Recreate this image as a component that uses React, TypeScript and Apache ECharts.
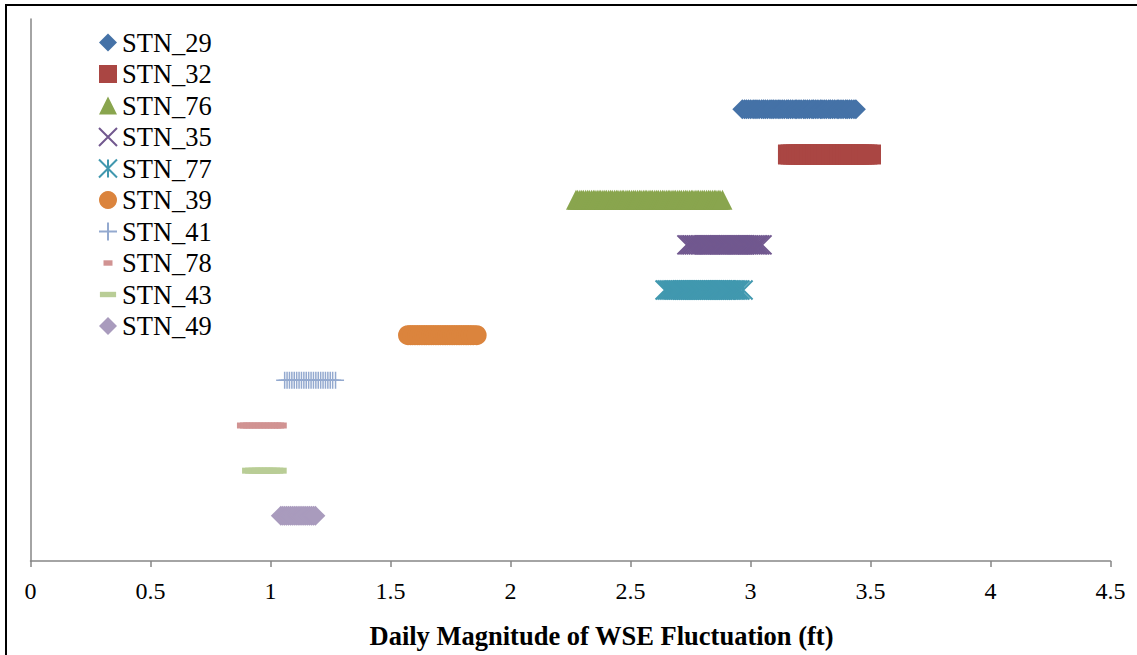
import React, { useEffect, useRef } from "react";
import * as echarts from "echarts";

const seriesNames = ["STN_29", "STN_32", "STN_76", "STN_35", "STN_77", "STN_39", "STN_41", "STN_78", "STN_43", "STN_49"];
const levels = [10, 9, 8, 7, 6, 5, 4, 3, 2, 1];

const stn29 = [2.966, 2.975, 2.983, 2.992, 3.001, 3.011, 3.019, 3.027, 3.036, 3.046, 3.054, 3.062, 3.071, 3.081, 3.089, 3.097, 3.106, 3.115, 3.123, 3.132, 3.141, 3.151, 3.158, 3.167, 3.176, 3.186, 3.193, 3.202, 3.211, 3.221, 3.228, 3.237, 3.246, 3.256, 3.263, 3.272, 3.281, 3.291, 3.298, 3.307, 3.316, 3.326, 3.333, 3.342, 3.351, 3.361, 3.368, 3.377, 3.386, 3.396, 3.403, 3.412, 3.421, 3.431, 3.439];
const stn32 = [3.156, 3.167, 3.178, 3.190, 3.201, 3.212, 3.224, 3.235, 3.247, 3.258, 3.270, 3.281, 3.292, 3.304, 3.315, 3.327, 3.338, 3.350, 3.361, 3.372, 3.384, 3.395, 3.407, 3.418, 3.430, 3.441, 3.452, 3.464, 3.475, 3.487, 3.502];
const stn76 = [2.273, 2.280, 2.289, 2.297, 2.304, 2.313, 2.321, 2.328, 2.337, 2.345, 2.352, 2.361, 2.369, 2.376, 2.385, 2.393, 2.400, 2.409, 2.417, 2.424, 2.433, 2.441, 2.448, 2.457, 2.465, 2.472, 2.481, 2.489, 2.496, 2.505, 2.513, 2.520, 2.529, 2.537, 2.544, 2.553, 2.561, 2.568, 2.577, 2.585, 2.592, 2.601, 2.609, 2.616, 2.625, 2.633, 2.640, 2.649, 2.657, 2.664, 2.673, 2.681, 2.688, 2.697, 2.705, 2.712, 2.721, 2.729, 2.736, 2.745, 2.753, 2.760, 2.769, 2.777, 2.784, 2.793, 2.801, 2.808, 2.817, 2.825, 2.832, 2.841, 2.849, 2.856, 2.865, 2.873, 2.883];
const stn35 = [2.735, 2.743, 2.751, 2.758, 2.766, 2.774, 2.782, 2.790, 2.797, 2.805, 2.813, 2.821, 2.829, 2.836, 2.844, 2.852, 2.860, 2.868, 2.875, 2.883, 2.891, 2.899, 2.907, 2.914, 2.922, 2.930, 2.938, 2.946, 2.953, 2.961, 2.969, 2.977, 2.985, 2.992, 3.000, 3.008, 3.016, 3.024, 3.031, 3.039, 3.048];
const stn77 = [2.644, 2.652, 2.660, 2.668, 2.676, 2.684, 2.692, 2.700, 2.708, 2.716, 2.724, 2.732, 2.740, 2.748, 2.756, 2.764, 2.772, 2.780, 2.788, 2.796, 2.804, 2.812, 2.820, 2.828, 2.836, 2.844, 2.852, 2.860, 2.868, 2.876, 2.884, 2.892, 2.900, 2.908, 2.916, 2.924, 2.932, 2.940, 2.948, 2.956, 2.969];
const stn39 = [1.573, 1.583, 1.592, 1.602, 1.612, 1.621, 1.631, 1.641, 1.650, 1.660, 1.670, 1.679, 1.689, 1.699, 1.708, 1.718, 1.728, 1.737, 1.747, 1.757, 1.766, 1.776, 1.786, 1.795, 1.805, 1.815, 1.824, 1.834, 1.845, 1.859];
const stn41 = [1.059, 1.069, 1.079, 1.089, 1.099, 1.109, 1.119, 1.129, 1.139, 1.149, 1.159, 1.169, 1.179, 1.189, 1.199, 1.209, 1.219, 1.229, 1.239, 1.249, 1.259, 1.271];
const stn78 = [0.881, 0.894, 0.907, 0.920, 0.933, 0.946, 0.959, 0.972, 0.985, 0.998, 1.011, 1.024, 1.036, 1.047];
const stn43 = [0.919, 0.932, 0.946, 0.960, 0.974, 0.988, 1.002, 1.016, 1.030];
const stn49 = [1.043, 1.051, 1.059, 1.067, 1.075, 1.083, 1.091, 1.099, 1.107, 1.115, 1.123, 1.131, 1.139, 1.147, 1.155, 1.163, 1.171, 1.179, 1.187];

const allValues = [stn29, stn32, stn76, stn35, stn77, stn39, stn41, stn78, stn43, stn49];

const colors = ["#4572A7", "#AA4643", "#89A54E", "#71588F", "#4198AF", "#DB843D", "#93A9CF", "#D19392", "#B9CD96", "#A99BBD"];

const xMin = 0;
const xMax = 4.5;
const xInterval = 0.5;
const axisTitle = "Daily Magnitude of WSE Fluctuation (ft)";

const symbols = [
  "diamond",
  "rect",
  "triangle",
  "path://M0 0L20 20M20 0L0 20",
  "path://M0 0L20 20M20 0L0 20M10 0L10 20",
  "circle",
  "path://M0 10L20 10M10 0L10 20",
  "path://M0 0M20 20M5 7L15 7L15 13L5 13Z",
  "path://M0 0M20 20M1 7L19 7L19 13L1 13Z",
  "diamond",
];
const symbolSizes = [20, 20, 20, 19, 19, 20, 17, 20, 20, 20];
const strokeWidths = [0, 0, 0, 2, 2, 0, 1.5, 0, 0, 0];

const FONT = "Liberation Serif";

export default function App() {
  const ref = useRef<HTMLDivElement>(null);
  useEffect(() => {
    if (!ref.current) return;
    const chart = echarts.init(ref.current, undefined, { renderer: "svg" });
    const series = seriesNames.map((name, i) => ({
      name,
      type: "scatter",
      data: allValues[i].map((x) => [x, levels[i]]),
      symbol: symbols[i],
      symbolSize: symbolSizes[i],
      silent: true,
      emphasis: { disabled: true },
      itemStyle:
        strokeWidths[i] > 0
          ? { color: "rgba(0,0,0,0)", borderColor: colors[i], borderWidth: strokeWidths[i], opacity: 1 }
          : { color: colors[i], opacity: 1 },
    }));
    chart.setOption({
      animation: false,
      backgroundColor: "#ffffff",
      grid: { left: 30.5, right: 26.5, top: 19, bottom: 94, containLabel: false },
      legend: {
        orient: "vertical",
        left: 93,
        top: 24,
        itemWidth: 18,
        itemHeight: 18,
        itemGap: 4.5,
        selectedMode: false,
        data: seriesNames,
        textStyle: { fontFamily: FONT, fontSize: 26.5, lineHeight: 26, color: "#000" },
      },
      xAxis: {
        type: "value",
        min: xMin,
        max: xMax,
        interval: xInterval,
        axisLine: { show: true, lineStyle: { color: "#868686", width: 1.5 } },
        axisTick: { show: true, length: 6, inside: false, lineStyle: { color: "#868686", width: 1.5 } },
        axisLabel: { fontFamily: FONT, fontSize: 24, color: "#000", margin: 18, showMinLabel: true, showMaxLabel: true },
        splitLine: { show: false },
        name: axisTitle,
        nameLocation: "middle",
        nameGap: 61,
        nameTextStyle: { fontFamily: FONT, fontSize: 26.5, fontWeight: "bold", color: "#000", padding: [0, 0, 0, 62] },
      },
      yAxis: {
        type: "value",
        min: 0,
        max: 12,
        axisLine: { show: true, lineStyle: { color: "#868686", width: 1.5 } },
        axisTick: { show: false },
        axisLabel: { show: false },
        splitLine: { show: false },
      },
      graphic: [
        { type: "line", shape: { x1: 5, y1: 5, x2: 1137, y2: 5 }, style: { stroke: "#000", lineWidth: 2 } },
        { type: "line", shape: { x1: 6, y1: 4, x2: 6, y2: 655 }, style: { stroke: "#000", lineWidth: 2 } },
      ],
      series,
    });
    return () => chart.dispose();
  }, []);
  return (
    <div style={{ position: "fixed", left: 0, top: 0, width: 1137, height: 655, background: "#fff" }}>
      <div ref={ref} style={{ width: 1137, height: 655 }} />
    </div>
  );
}
